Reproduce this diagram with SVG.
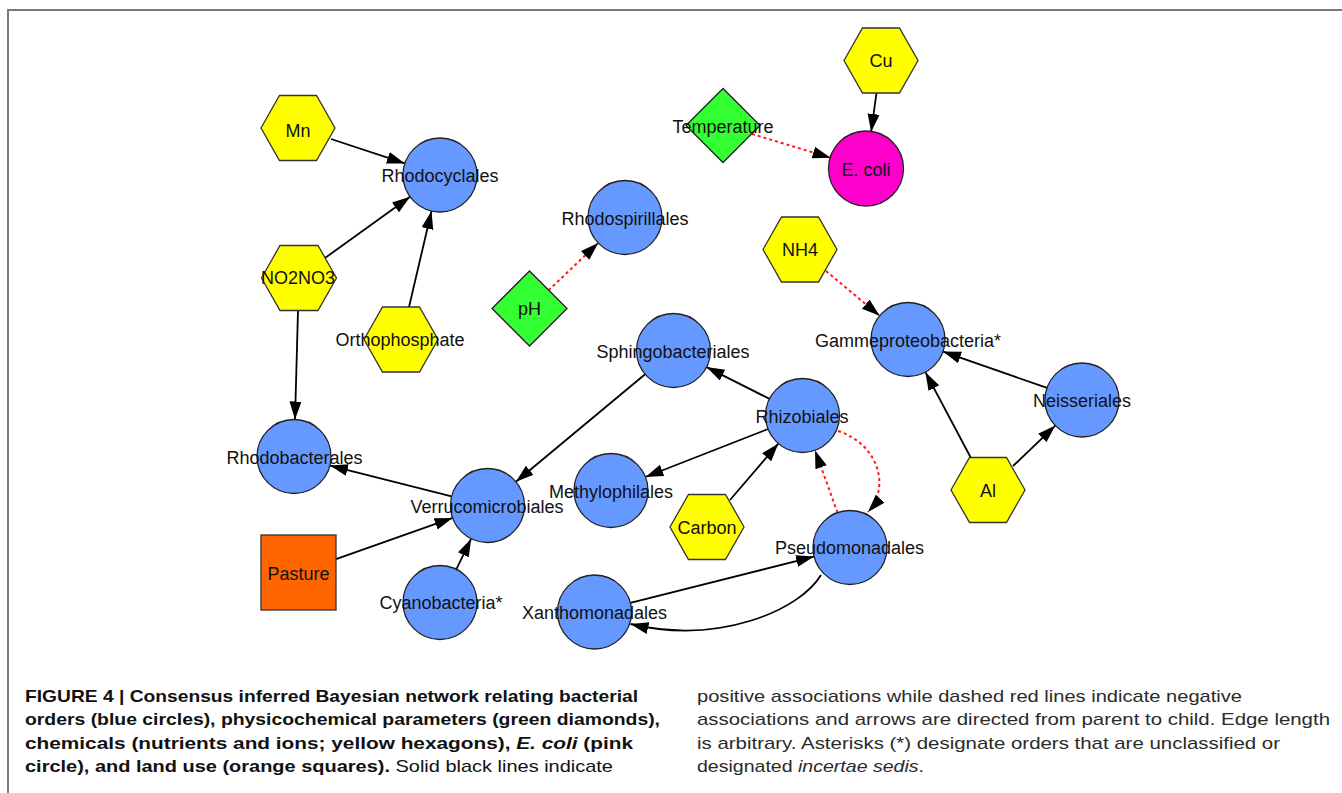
<svg xmlns="http://www.w3.org/2000/svg" width="1342" height="793" viewBox="0 0 1342 793">
<style>
.c{fill:#6699FF;stroke:#222;stroke-width:1.3}
.h{fill:#FFFF00;stroke:#333;stroke-width:1.3}
.d{fill:#33FF33;stroke:#222;stroke-width:1.3}
.e{fill:#FF00CC;stroke:#222;stroke-width:1.3}
.s{fill:#FF6600;stroke:#333;stroke-width:1.3}
.t{font-family:"Liberation Sans",Arial,sans-serif;font-size:18px;fill:#111;text-anchor:middle}
.pos{fill:none;stroke:#000;stroke-width:1.8;marker-end:url(#ah)}
.neg{fill:none;stroke:#FF1a1a;stroke-width:2;stroke-dasharray:3 3;marker-end:url(#ah)}
.cap{font-family:"Liberation Sans",Arial,sans-serif;font-size:17px;fill:#111}
.b{font-weight:bold}
.r{font-family:"Liberation Sans",Arial,sans-serif;font-size:17px;fill:#2a2a2a}
</style>
<defs>
<marker id="ah" markerUnits="userSpaceOnUse" markerWidth="20" markerHeight="14" refX="18" refY="6" orient="auto" viewBox="0 0 20 14">
<path d="M0,0 L18,6 L0,12 Z" fill="#000"/>
</marker>
</defs>
<rect width="1342" height="793" fill="#fff"/>
<path d="M8,793 V10 H1342" fill="none" stroke="#7a7a7a" stroke-width="2"/>

<g id="edges">
<line class="pos" x1="331" y1="139" x2="404.9" y2="163.4"/>
<line class="pos" x1="325" y1="258" x2="410.1" y2="196.8"/>
<line class="pos" x1="409" y1="307" x2="431.5" y2="211"/>
<line class="pos" x1="298" y1="311" x2="295" y2="419.5"/>
<line class="pos" x1="451.6" y1="496.4" x2="329.9" y2="465.6"/>
<line class="pos" x1="336" y1="559.2" x2="452.6" y2="517.9"/>
<line class="pos" x1="456.3" y1="569.3" x2="471.2" y2="538.7"/>
<line class="pos" x1="645.1" y1="374.2" x2="515.9" y2="481.8"/>
<line class="pos" x1="769.5" y1="398.9" x2="706.5" y2="367.1"/>
<line class="pos" x1="768.1" y1="429" x2="645.4" y2="477"/>
<line class="pos" x1="730" y1="500" x2="778.4" y2="443.6"/>
<line class="neg" x1="837.5" y1="512.7" x2="815" y2="450.3"/>
<path class="neg" d="M838,431 C880,445 890,488 868,512"/>
<line class="pos" x1="630.4" y1="602.9" x2="814.1" y2="556.6"/>
<path class="pos" d="M821,575 C800,610 720,645 630.5,624"/>
<line class="neg" x1="752" y1="134" x2="830.6" y2="157.8"/>
<line class="pos" x1="876.5" y1="93" x2="871.1" y2="131.9"/>
<line class="neg" x1="548.5" y1="290.4" x2="598.2" y2="243"/>
<line class="neg" x1="826" y1="271" x2="879.6" y2="315.8"/>
<line class="pos" x1="1047" y1="387.9" x2="943" y2="351.6"/>
<line class="pos" x1="970.7" y1="457.5" x2="925.4" y2="372.2"/>
<line class="pos" x1="1013" y1="466" x2="1055.3" y2="425.6"/>
</g>

<g id="Mn"><polygon class="h" points="261,128 279.5,95.5 316.5,95.5 335,128 316.5,160.5 279.5,160.5"/><text class="t" x="298" y="137">Mn</text></g>
<g id="Rhodocyclales"><circle class="c" cx="440" cy="175" r="37"/><text class="t" x="440" y="182">Rhodocyclales</text></g>
<g id="NO2NO3"><polygon class="h" points="261.5,278 280,245.5 318,245.5 336.5,278 318,310.5 280,310.5"/><text class="t" x="298" y="284">NO2NO3</text></g>
<g id="Orthophosphate"><polygon class="h" points="364,339.5 382.5,307 419.5,307 438,339.5 419.5,372 382.5,372"/><text class="t" x="400" y="346">Orthophosphate</text></g>
<g id="Rhodobacterales"><circle class="c" cx="294" cy="456.5" r="37"/><text class="t" x="294.5" y="464">Rhodobacterales</text></g>
<g id="Verrucomicrobiales"><circle class="c" cx="487.5" cy="505.5" r="37"/><text class="t" x="487" y="513">Verrucomicrobiales</text></g>
<g id="Pasture"><rect class="s" x="261" y="535" width="75" height="75"/><text class="t" x="298.5" y="580">Pasture</text></g>
<g id="Cyanobacteria"><circle class="c" cx="440" cy="602.5" r="37"/><text class="t" x="441" y="609">Cyanobacteria*</text></g>
<g id="Xanthomonadales"><circle class="c" cx="594.5" cy="612" r="37"/><text class="t" x="594.5" y="619">Xanthomonadales</text></g>
<g id="Methylophilales"><circle class="c" cx="611" cy="490.5" r="37"/><text class="t" x="611" y="498">Methylophilales</text></g>
<g id="Sphingobacteriales"><circle class="c" cx="673.5" cy="350.5" r="37"/><text class="t" x="673" y="358">Sphingobacteriales</text></g>
<g id="Rhizobiales"><circle class="c" cx="802.5" cy="415.5" r="37"/><text class="t" x="802" y="423">Rhizobiales</text></g>
<g id="Carbon"><polygon class="h" points="670,527 688.5,494.5 725.5,494.5 744,527 725.5,559.5 688.5,559.5"/><text class="t" x="707" y="534">Carbon</text></g>
<g id="Pseudomonadales"><circle class="c" cx="850" cy="547.5" r="37"/><text class="t" x="849.5" y="554">Pseudomonadales</text></g>
<g id="Gammeproteobacteria"><circle class="c" cx="908" cy="339.5" r="37"/><text class="t" x="908" y="347">Gammeproteobacteria*</text></g>
<g id="Neisseriales"><circle class="c" cx="1082" cy="400" r="37"/><text class="t" x="1082" y="407">Neisseriales</text></g>
<g id="Al"><polygon class="h" points="951,490 969.5,457.5 1006.5,457.5 1025,490 1006.5,522.5 969.5,522.5"/><text class="t" x="988" y="497">Al</text></g>
<g id="NH4"><polygon class="h" points="763,249.5 781.5,217 818.5,217 837,249.5 818.5,282 781.5,282"/><text class="t" x="800" y="256">NH4</text></g>
<g id="Cu"><polygon class="h" points="844,60.5 862.5,28 899.5,28 918,60.5 899.5,93 862.5,93"/><text class="t" x="881" y="67">Cu</text></g>
<g id="Ecoli"><circle class="e" cx="866" cy="168.5" r="37.5"/><text class="t" x="866" y="176">E. coli</text></g>
<g id="Temperature"><polygon class="d" points="686,125.5 723,88.5 760,125.5 723,162.5"/><text class="t" x="723" y="133">Temperature</text></g>
<g id="Rhodospirillales"><circle class="c" cx="625" cy="217.5" r="37"/><text class="t" x="625" y="225">Rhodospirillales</text></g>
<g id="pH"><polygon class="d" points="492,308.5 529.5,271 567,308.5 529.5,346"/><text class="t" x="529.5" y="315">pH</text></g>

<g id="caption">
<text class="cap b" x="25" y="702" textLength="613" lengthAdjust="spacingAndGlyphs">FIGURE 4 | Consensus inferred Bayesian network relating bacterial</text>
<text class="cap b" x="25" y="725" textLength="635" lengthAdjust="spacingAndGlyphs">orders (blue circles), physicochemical parameters (green diamonds),</text>
<text class="cap b" x="25" y="749" textLength="608" lengthAdjust="spacingAndGlyphs">chemicals (nutrients and ions; yellow hexagons), <tspan font-style="italic">E. coli</tspan> (pink</text>
<text class="cap" x="25" y="772" textLength="588" lengthAdjust="spacingAndGlyphs"><tspan font-weight="bold">circle), and land use (orange squares).</tspan> Solid black lines indicate</text>
<text class="r" x="697" y="702" textLength="545" lengthAdjust="spacingAndGlyphs">positive associations while dashed red lines indicate negative</text>
<text class="r" x="697" y="725" textLength="633" lengthAdjust="spacingAndGlyphs">associations and arrows are directed from parent to child. Edge length</text>
<text class="r" x="697" y="749" textLength="583" lengthAdjust="spacingAndGlyphs">is arbitrary. Asterisks (*) designate orders that are unclassified or</text>
<text class="r" x="697" y="772" textLength="227" lengthAdjust="spacingAndGlyphs">designated <tspan font-style="italic">incertae sedis</tspan>.</text>
</g>
</svg>
